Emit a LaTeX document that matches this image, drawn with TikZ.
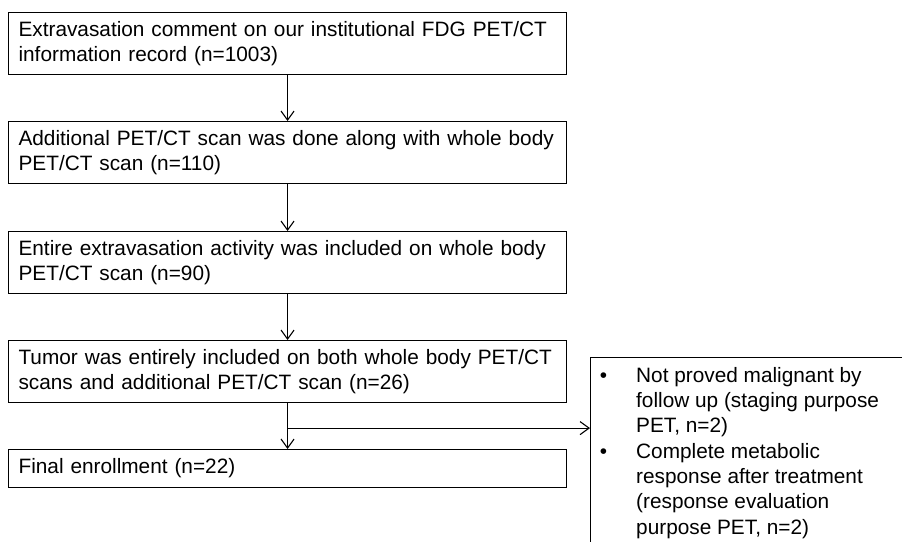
\documentclass[tikz,border=0pt]{standalone}
\usepackage{fontspec}
\setmainfont{Liberation Sans}
\usetikzlibrary{arrows.meta,calc}
\newcommand\myind{\hspace*{5pt}}
\begin{document}
\begin{tikzpicture}[x=1pt,y=-1pt,
  every node/.style={font=\fontsize{20.8pt}{25.3pt}\selectfont},
  flowbox/.style={draw, line width=1.1pt, anchor=north west, align=left,
    text width=548pt, inner xsep=5pt, inner ysep=0pt, minimum height=62pt},
  flowarrow/.style={line width=1.1pt, -{Straight Barb[length=9pt,width=13pt,line width=1.1pt]}}
]
\useasboundingbox (0,0) rectangle (902,541);
\clip (0,0) rectangle (902,541);
\fill[white] (0,0) rectangle (902,541);

\node[flowbox] (b1) at (8,12) {\myind Extravasation comment on our institutional FDG PET/CT\\\myind information record (n=1003)};
\node[flowbox] (b2) at (8,121) {\myind Additional PET/CT scan was done along with whole body\\\myind PET/CT scan (n=110)};
\node[flowbox] (b3) at (8,231) {\myind Entire extravasation activity was included on whole body\\\myind PET/CT scan (n=90)};
\node[flowbox] (b4) at (8,340) {\myind Tumor was entirely included on both whole body PET/CT\\\myind scans and additional PET/CT scan (n=26)};
\node[flowbox, minimum height=38pt] (b5) at (8,449) {\myind Final enrollment (n=22)};

\node[draw, line width=1.1pt, anchor=north west, minimum width=330pt, minimum height=220pt, inner sep=0pt] (rb) at (590,357) {};
\node[anchor=north west, align=left, inner sep=0pt] (rbt) at (636,367) {%
\llap{•\hspace{29pt}}Not proved malignant by\\
follow up (staging purpose\\
PET, n=2)\\
\llap{•\hspace{29pt}}Complete metabolic\\
response after treatment\\
(response evaluation\\
purpose PET, n=2)};

\draw[flowarrow] (b1.south) -- (b2.north);
\draw[flowarrow] (b2.south) -- (b3.north);
\draw[flowarrow] (b3.south) -- (b4.north);
\draw[flowarrow] (b4.south) -- (b5.north);
\coordinate (br) at ($(b4.south)+(0,25)$);
\draw[flowarrow] (br) -- (br -| rb.west);
\end{tikzpicture}
\end{document}
